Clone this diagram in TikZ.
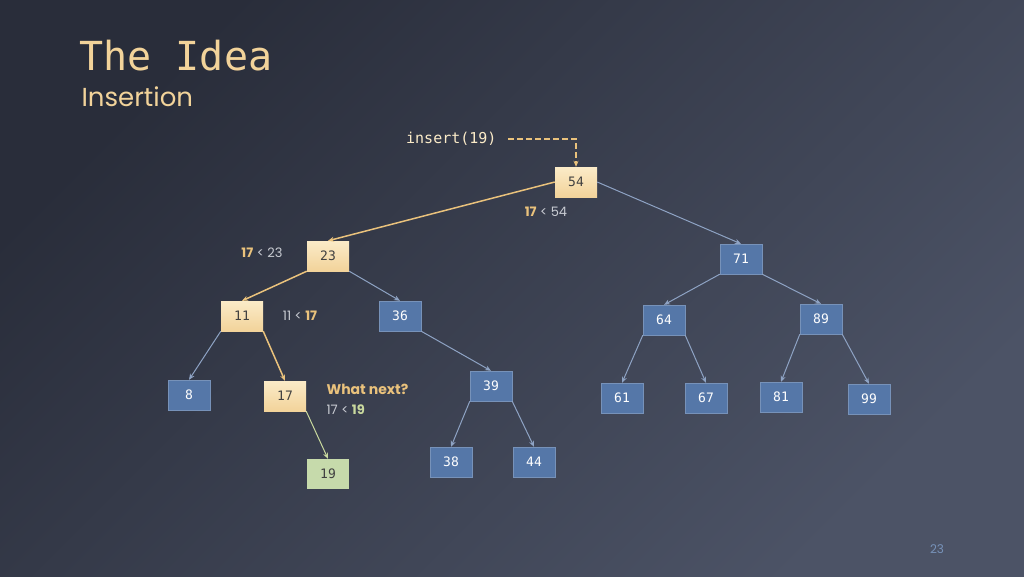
\documentclass[tikz,border=0pt]{standalone}
\usepackage{fontspec}
\setmainfont{Poppins}
\newfontfamily\monof{DejaVu Sans Mono}
\usetikzlibrary{arrows.meta}
\definecolor{bgA}{HTML}{292D3A}
\definecolor{bgB}{HTML}{4C5366}
\definecolor{bluebox}{HTML}{5577A8}
\definecolor{blueline}{HTML}{8EA3C4}
\definecolor{gold}{HTML}{EAC27C}
\definecolor{beigeA}{HTML}{FBEBC8}
\definecolor{beigeB}{HTML}{F2D39A}
\definecolor{greenbox}{HTML}{C6DAAB}
\definecolor{greenline}{HTML}{C9D99E}
\definecolor{txtgray}{HTML}{C9CCD3}
\tikzset{
  x=1pt,y=-1pt,
  nd/.style={minimum width=42pt,minimum height=30pt,inner sep=0pt,font=\monof\fontsize{13}{13}\selectfont},
  bl/.style={nd,fill=bluebox,draw=bluebox!80!white,text=white},
  be/.style={nd,top color=beigeA,bottom color=beigeB,draw=none,text=black!75},
  gr/.style={nd,fill=greenbox,text=black!75},
  bedge/.style={blueline,line width=1pt,-{Stealth[length=6pt,width=5pt]}},
  gedge/.style={gold,line width=1.5pt,-{Stealth[length=6pt,width=5pt]}},
  lbl/.style={font=\fontsize{13}{13}\selectfont,text=txtgray}
}
\begin{document}
\begin{tikzpicture}
\shade[left color=bgA,right color=bgB,shading angle=45] (0,0) rectangle (1024,576);
\useasboundingbox (0,0) rectangle (1024,576);
\node[anchor=west,text=beigeB,font=\monof\fontsize{40}{40}\selectfont] (title) at (76,56) {The Idea};
\node[anchor=west,text=beigeB,font=\fontsize{26}{26}\selectfont] (sub) at (78,97) {Insertion};
\node[anchor=east,text=beigeA,font=\monof\fontsize{15}{15}\selectfont] (ins) at (500,139) {insert(19)};
\node[be] (n54) at (576,182) {54};
\node[be] (n23) at (328,256) {23};
\node[bl] (n71) at (741,259) {71};
\node[be] (n11) at (242,316) {11};
\node[bl] (n36) at (400,316) {36};
\node[bl] (n64) at (664,320) {64};
\node[bl] (n89) at (821,319) {89};
\node[bl] (n8) at (189,395) {8};
\node[be] (n17) at (285,396) {17};
\node[bl] (n39) at (491,386) {39};
\node[bl] (n61) at (622,398) {61};
\node[bl] (n67) at (706,398) {67};
\node[bl] (n81) at (781,397) {81};
\node[bl] (n99) at (869,399) {99};
\node[bl] (n38) at (451,462) {38};
\node[bl] (n44) at (534,462) {44};
\node[gr] (n19) at (328,474) {19};
\coordinate (corner) at (576,139);
\draw[gold,line width=1.3pt,dash pattern=on 6pt off 3pt,-{Stealth[length=6pt,width=5pt]}] (ins.east) ++(8,0) -- (corner) -- (n54.north);
\draw[gedge] (n54.west) -- (n23.north);
\draw[bedge] (n54.east) -- (n71.north);
\draw[gedge] (n23.south west) -- (n11.north);
\draw[bedge] (n23.south east) -- (n36.north);
\draw[bedge] (n71.south west) -- (n64.north);
\draw[bedge] (n71.south east) -- (n89.north);
\draw[bedge] (n11.south west) -- (n8.north);
\draw[gedge] (n11.south east) -- (n17.north);
\draw[bedge] (n36.south east) -- (n39.north);
\draw[bedge] (n64.south west) -- (n61.north);
\draw[bedge] (n64.south east) -- (n67.north);
\draw[bedge] (n89.south west) -- (n81.north);
\draw[bedge] (n89.south east) -- (n99.north);
\draw[bedge] (n39.south west) -- (n38.north);
\draw[bedge] (n39.south east) -- (n44.north);
\draw[greenline,line width=1pt,-{Stealth[length=6pt,width=5pt]}] (n17.south east) -- (n19.north);
\node[lbl] (l1) at (546,212) {\textbf{\color{gold}17} < 54};
\node[lbl] (l2) at (262,253) {\textbf{\color{gold}17} < 23};
\node[lbl] (l3) at (300,316) {11 < \textbf{\color{gold}17}};
\node[lbl,anchor=west,text=gold,font=\bfseries\fontsize{14}{14}\selectfont] (l4) at (323,389) {What next?};
\node[lbl,anchor=west] (l5) at (323,410) {17 < \textbf{\color{greenline}19}};
\node[text=bluebox!80!white,font=\fontsize{12}{12}\selectfont] (pg) at (937,549) {23};
\end{tikzpicture}
\end{document}
